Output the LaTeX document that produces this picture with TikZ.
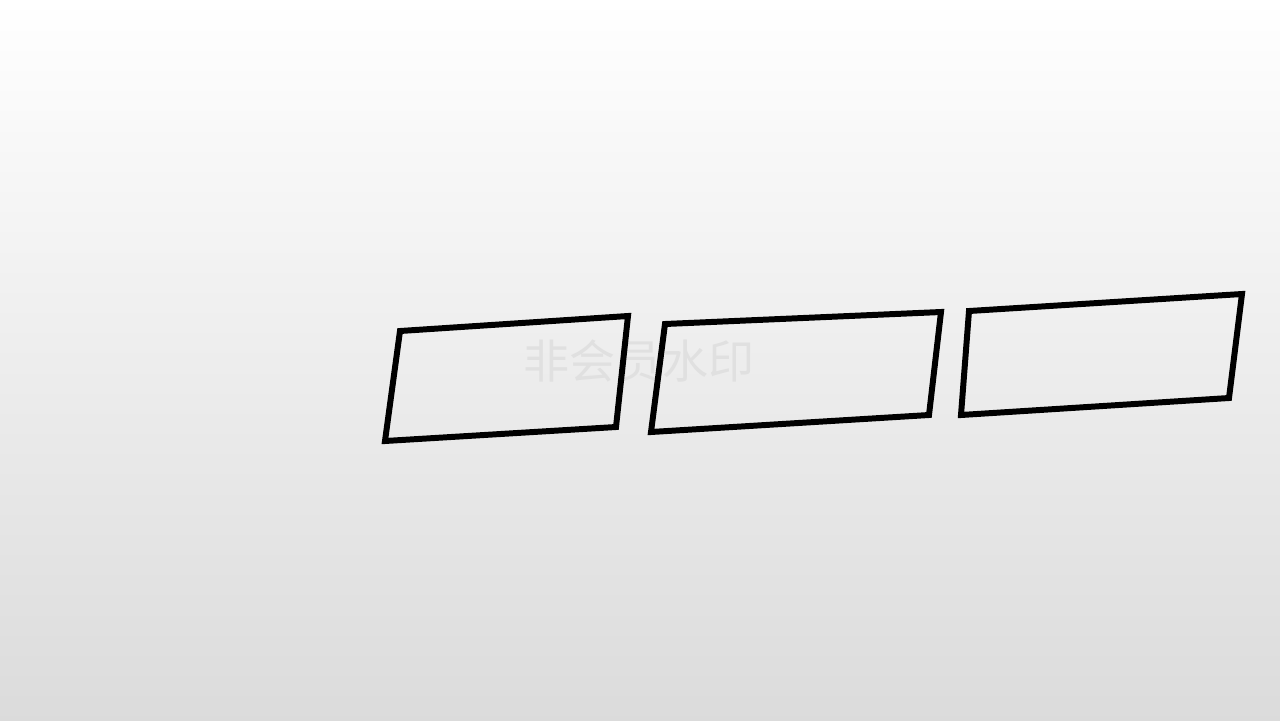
\documentclass[tikz,border=0pt]{standalone}
\usepackage{fontspec}
\newfontfamily\cjkfont{Noto Sans CJK SC}
\usetikzlibrary{positioning}
\begin{document}
\begin{tikzpicture}[scale=0.1]
		\tikzstyle{every node}+=[inner sep=0pt]
		\tikzstyle{frame}=[black, line width=1.7pt]
		\shade [top color=white, bottom color=black!14] (0,0) rectangle (128,-72);
		\draw (63.9,-36.1) node [text=black!12, font=\cjkfont\fontsize{13.1}{13.1}\selectfont] (mark) {非会员水印};
		\draw [frame] (40.0,-33.1) -- (62.8,-31.6) -- (61.6,-42.7) -- (38.5,-44.1) -- cycle;
		\draw [frame] (66.5,-32.4) -- (94.1,-31.2) -- (92.9,-41.5) -- (65.1,-43.2) -- cycle;
		\draw [frame] (96.9,-31.1) -- (124.2,-29.4) -- (122.9,-39.8) -- (96.1,-41.5) -- cycle;
	\end{tikzpicture}
\end{document}
